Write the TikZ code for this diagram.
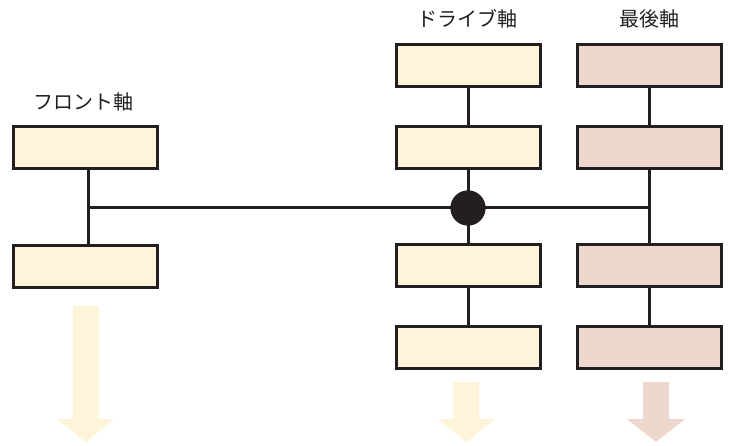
\documentclass[tikz,border=0pt]{standalone}
\usepackage{fontspec}
\newfontfamily\cjk{Noto Sans CJK JP}
\definecolor{ink}{HTML}{231F20}
\definecolor{ylw}{HTML}{FDF4D9}
\definecolor{pnk}{HTML}{EED8CE}
\begin{document}
\begin{tikzpicture}[x=1pt,y=-1pt,
  box/.style={draw=ink,line width=3pt,minimum width=144pt,minimum height=42pt,inner sep=0pt},
  ybox/.style={box,fill=ylw},
  pbox/.style={box,fill=pnk},
  wire/.style={draw=ink,line width=3pt},
  lbl/.style={font=\cjk\fontsize{20}{24}\selectfont,text=ink,inner sep=0pt},
  bigarrow/.style={draw=none}]
\useasboundingbox (0,0) rectangle (731,446);
% front axle
\node[lbl] (fl) at (84,102) {フロント軸};
\node[ybox] (f1) at (85,148) {};
\node[ybox] (f2) at (85,266.5) {};
% drive axle
\node[lbl] (dl) at (467,19) {ドライブ軸};
\node[ybox] (d1) at (468.5,66) {};
\node[ybox] (d2) at (468.5,148) {};
\node[ybox] (d3) at (468.5,265.5) {};
\node[ybox] (d4) at (468.5,347.5) {};
% last axle
\node[lbl] (ll) at (649,19) {最後軸};
\node[pbox] (l1) at (649,66) {};
\node[pbox] (l2) at (649,148) {};
\node[pbox] (l3) at (649,265.5) {};
\node[pbox] (l4) at (649,347.5) {};
% junctions
\coordinate (fj) at (88,208);
\coordinate (lj) at (649,208);
\node[circle,fill=ink,minimum size=35pt,inner sep=0pt] (dj) at (468,208) {};
% wires
\draw[wire] (f1.south -| fj) -- (f2.north -| fj);
\draw[wire] (fj) -- (lj);
\draw[wire] (d1.south -| dj) -- (d2.north -| dj);
\draw[wire] (d2.south -| dj) -- (d3.north -| dj);
\draw[wire] (d3.south -| dj) -- (d4.north -| dj);
\draw[wire] (l1.south -| lj) -- (l2.north -| lj);
\draw[wire] (l2.south -| lj) -- (l3.north -| lj);
\draw[wire] (l3.south -| lj) -- (l4.north -| lj);
\node[fill=ink,circle,minimum size=35pt,inner sep=0pt] at (dj) {};
% big arrows
\fill[ylw] (73,306) -- (99,306) -- (99,419) -- (114,419) -- (86,442) -- (57,419) -- (73,419) -- cycle;
\fill[ylw] (453,382) -- (479,382) -- (479,419) -- (495,419) -- (466.5,442) -- (438,419) -- (453,419) -- cycle;
\fill[pnk] (643,382) -- (669,382) -- (669,419) -- (685,419) -- (656,442) -- (627,419) -- (643,419) -- cycle;
\end{tikzpicture}
\end{document}
